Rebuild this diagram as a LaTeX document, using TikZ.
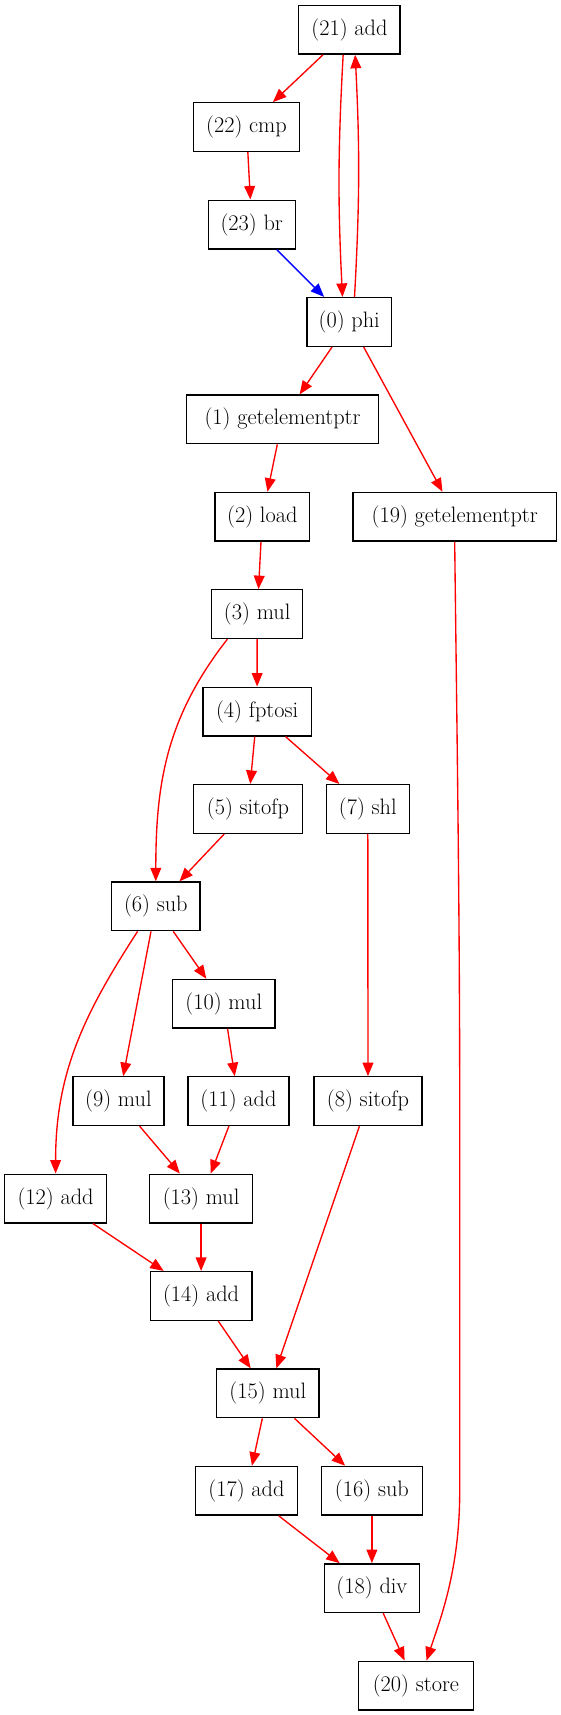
\documentclass[tikz,border=0pt]{standalone}
\usepackage[rgb]{xcolor}
\usepackage{tikz}
\usetikzlibrary{arrows.meta}

\tikzset{
  instr/.style={draw=black, line width=1pt, minimum height=36pt, inner sep=0pt,
    font=\fontsize{16.5}{18}\selectfont},
  flow/.style={red, line width=1pt, -{Triangle[length=10pt,width=8pt]}},
}

\begin{document}
\begin{tikzpicture}[x=0.7394pt, y=0.7394pt]
\useasboundingbox (0,0) rectangle (561,-1715);

% instructions: name / x / rank / width / label
 \foreach \nm/\x/\rk/\wid/\lbl in {
  a21/349.4/0/74.9/(21) add, a22/246.5/1/78.8/(22) cmp, a23/251.7/2/64.3/(23) br,
  a0/349.2/3/62.4/(0) phi, a1/282.5/4/141.5/(1) getelementptr,
  a2/262.3/5/70.2/(2) load, a19/454.7/5/150.3/(19) getelementptr,
  a3/257.2/6/67.3/(3) mul, a4/257.1/7/80.1/(4) fptosi,
  a5/247.9/8/80.4/(5) sitofp, a7/367.8/8/61.4/(7) shl, a6/155.8/9/65.4/(6) sub,
  a10/223.8/10/75.9/(10) mul, a9/118.4/11/67.3/(9) mul, a11/238.5/11/74.9/(11) add,
  a8/368/11/80.1/(8) sitofp, a12/55.6/12/75.4/(12) add, a13/201.1/12/76.2/(13) mul,
  a14/201.1/13/75.1/(14) add, a15/267.8/14/75.9/(15) mul,
  a17/246.5/15/75.1/(17) add, a16/371.9/15/74.4/(16) sub,
  a18/371.9/16/70.1/(18) div, a20/415.9/17/84.9/(20) store}
  {
  \node[instr, minimum width=\wid pt] (\nm) at (\x, -29.75-97.4*\rk) {\lbl};
  }

% straight dependencies
 \foreach \a/\b in {a21/a22, a22/a23, a0/a1, a1/a2, a2/a3, a3/a4, a4/a5, a4/a7,
  a5/a6, a7/a8, a6/a10, a6/a9, a10/a11, a9/a13, a11/a13, a8/a15, a12/a14,
  a13/a14, a14/a15, a15/a17, a15/a16, a17/a18, a16/a18, a18/a20}
  {
  \draw[flow] (\a) -- (\b);
  }

\draw[flow, blue] (a23) -- (a0);
\draw[flow] (a21.256) to[bend right=3] (a0.105);
\draw[flow] (a0.78) to[bend right=3] (a21.283);
\draw[flow] (a0.300) -- (a19.116);
\draw[flow] (a3.220) to[out=-128, in=90] (a6.north);
\draw[flow] (a6.234) to[out=-123, in=90] (a12.north);
\draw[flow] (a19.south) .. controls (456.5,-700) and (459.7,-900) .. (459.7,-1100)
  -- (459.7,-1492) .. controls (459.7,-1570) and (440,-1620) .. (a20.67);

\end{tikzpicture}
\end{document}
